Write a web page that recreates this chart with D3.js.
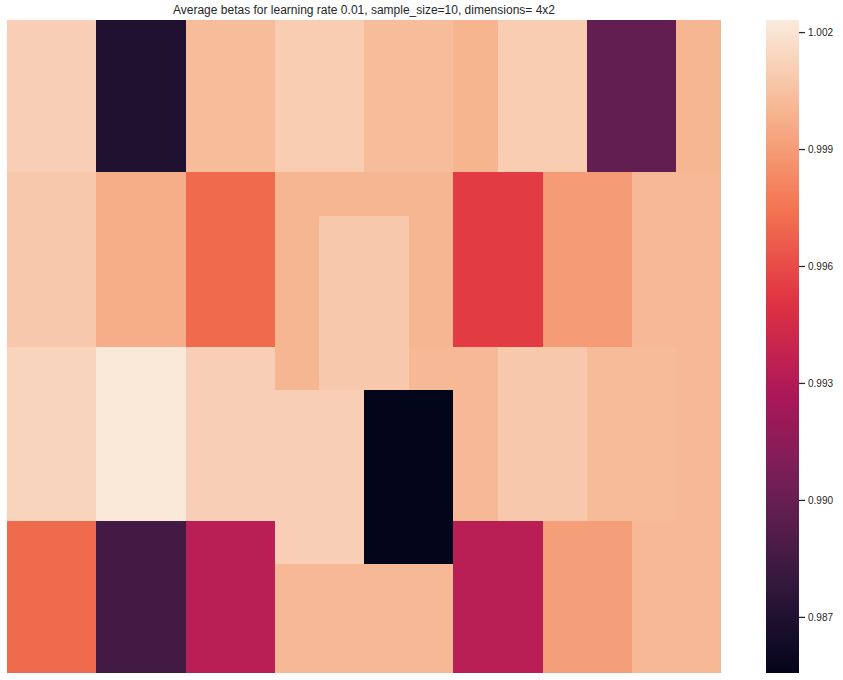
<!DOCTYPE html>
<html>
<head>
<meta charset="utf-8">
<script src="https://cdn.jsdelivr.net/npm/d3@7"></script>
<style>
  html, body { margin: 0; padding: 0; background: #ffffff; }
  svg { display: block; font-family: "Liberation Sans", Arial, sans-serif; }
</style>
</head>
<body>
<svg id="chart" width="843" height="680"></svg>
<script>
// ---------------- data ----------------
const title = "Average betas for learning rate 0.01, sample_size=10, dimensions= 4x2";

// column grid: 16 unit columns
const nCols = 16;
// row bands (in row units, 15 total)
const rowEdges = [0, 3.5, 4.5, 7.5, 8.5, 11.5, 12.5, 15];

// values per band, one per unit column
const band0 = [1.0011, 1.0011, 0.9870, 0.9870, 1.0003, 1.0003, 1.0010, 1.0010, 1.0003, 1.0003, 0.9999, 1.0010, 1.0010, 0.9898, 0.9898, 1.0000];
const band1 = [1.0008, 1.0008, 0.9997, 0.9997, 0.9971, 0.9971, 1.0000, 1.0000, 1.0000, 1.0000, 0.9954, 0.9954, 0.9990, 0.9990, 1.0001, 1.0001];
const band2 = [1.0008, 1.0008, 0.9997, 0.9997, 0.9971, 0.9971, 1.0000, 1.0008, 1.0008, 1.0000, 0.9954, 0.9954, 0.9990, 0.9990, 1.0001, 1.0001];
const band3 = [1.0013, 1.0013, 1.0022, 1.0022, 1.0011, 1.0011, 1.0000, 1.0008, 1.0008, 1.0001, 1.0001, 1.0008, 1.0008, 1.0002, 1.0002, 1.0001];
const band4 = [1.0013, 1.0013, 1.0022, 1.0022, 1.0011, 1.0011, 1.0011, 1.0011, 0.98556, 0.98556, 1.0001, 1.0008, 1.0008, 1.0002, 1.0002, 1.0001];
const band5 = [0.9971, 0.9971, 0.9885, 0.9885, 0.9933, 0.9933, 1.0011, 1.0011, 0.98556, 0.98556, 0.9933, 0.9933, 0.9991, 0.9991, 1.0001, 1.0001];
const band6 = [0.9971, 0.9971, 0.9885, 0.9885, 0.9933, 0.9933, 1.0001, 1.0001, 1.0001, 1.0001, 0.9933, 0.9933, 0.9991, 0.9991, 1.0001, 1.0001];
const bands = [band0, band1, band2, band3, band4, band5, band6];

// colour range
const vmin = 0.98556;
const vmax = 1.00231;
const tickValues = [0.987, 0.990, 0.993, 0.996, 0.999, 1.002];

// seaborn "rocket" colormap anchors
const rocketPos = [0, 1/7, 2/7, 3/7, 4/7, 5/7, 6/7, 1];
const rocketCol = ["#03051a", "#35193e", "#701f57", "#ad1759", "#e13342", "#f37651", "#f6b48f", "#faebdd"];

// ---------------- layout ----------------
const plot = { left: 7, right: 721, top: 20, bottom: 673 };
const cbar = { left: 766, right: 799, top: 20, bottom: 673 };

const svg = d3.select("#chart");

const rocket = d3.scaleLinear().domain(rocketPos).range(rocketCol).interpolate(d3.interpolateRgb).clamp(true);
const norm = d3.scaleLinear().domain([vmin, vmax]).range([0, 1]).clamp(true);
const color = v => rocket(norm(v));

const x = d3.scaleLinear().domain([0, nCols]).range([plot.left, plot.right]);
const y = d3.scaleLinear().domain([0, rowEdges[rowEdges.length - 1]]).range([plot.top, plot.bottom]);

const cells = [];
bands.forEach((vals, b) => {
  vals.forEach((v, c) => {
    cells.push({ c0: c, c1: c + 1, r0: rowEdges[b], r1: rowEdges[b + 1], v });
  });
});

const px = v => Math.round(x(v));
const py = v => Math.round(y(v));

svg.append("g")
  .attr("shape-rendering", "crispEdges")
  .selectAll("rect")
  .data(cells)
  .join("rect")
  .attr("x", d => px(d.c0))
  .attr("y", d => py(d.r0))
  .attr("width", d => px(d.c1) - px(d.c0))
  .attr("height", d => py(d.r1) - py(d.r0))
  .attr("fill", d => color(d.v));

// title
svg.append("text")
  .attr("x", (plot.left + plot.right) / 2)
  .attr("y", 14)
  .attr("text-anchor", "middle")
  .attr("font-size", 12)
  .attr("fill", "#262626")
  .text(title);

// colorbar
const defs = svg.append("defs");
const grad = defs.append("linearGradient")
  .attr("id", "cbgrad")
  .attr("x1", 0).attr("y1", 1).attr("x2", 0).attr("y2", 0);
d3.range(0, 1.0001, 1 / 64).forEach(t => {
  grad.append("stop").attr("offset", t).attr("stop-color", rocket(t));
});
svg.append("rect")
  .attr("x", cbar.left)
  .attr("y", cbar.top)
  .attr("width", cbar.right - cbar.left)
  .attr("height", cbar.bottom - cbar.top)
  .attr("fill", "url(#cbgrad)");

const cy = d3.scaleLinear().domain([vmin, vmax]).range([cbar.bottom, cbar.top]);
const cax = svg.append("g")
  .attr("transform", `translate(${cbar.right},0)`)
  .call(d3.axisRight(cy).tickValues(tickValues).tickFormat(d3.format(".3f")).tickSize(6).tickPadding(3));
cax.select(".domain").remove();
cax.selectAll(".tick line").attr("stroke", "#262626").attr("stroke-width", 1.25);
cax.selectAll(".tick text")
  .attr("fill", "#262626")
  .attr("font-size", 10)
  .attr("font-family", "Liberation Sans, Arial, sans-serif");
</script>
</body>
</html>
